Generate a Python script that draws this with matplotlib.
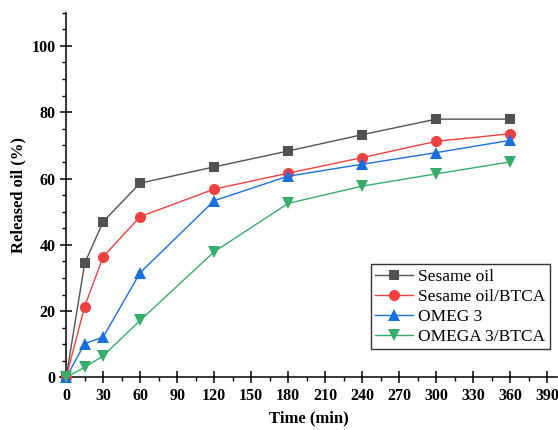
import numpy as np
import matplotlib
matplotlib.use("Agg")
import matplotlib.pyplot as plt
from matplotlib.ticker import MultipleLocator

plt.rcParams['font.family'] = ['Liberation Serif', 'DejaVu Serif']
plt.rcParams['font.weight'] = 'bold'

# data
time = [0, 15, 30, 60, 120, 180, 240, 300, 360]
sesame = [0, 34.4, 47.0, 58.6, 63.5, 68.3, 73.2, 77.9, 77.9]
sesame_btca = [0, 21.4, 36.4, 48.5, 56.8, 61.6, 66.3, 71.2, 73.5]
omeg3 = [0, 10.2, 12.2, 31.6, 53.3, 60.7, 64.3, 67.8, 71.5]
omega3_btca = [0, 3.1, 6.5, 17.2, 37.9, 52.5, 57.7, 61.4, 65.0]

labels = ['Sesame oil', 'Sesame oil/BTCA', 'OMEG 3', 'OMEGA 3/BTCA']
colors = ['#515151', '#F14040', '#1A6FDF', '#37AD6B']
markers = ['s', 'o', '^', 'v']
msizes = [7, 8, 8.5, 8.5]

fig = plt.figure(figsize=(5.58, 4.30), dpi=100)
ax = fig.add_axes([0.1075, 0.1221, 0.8907, 0.8484])

for ys, lab, c, m, ms in zip([sesame, sesame_btca, omeg3, omega3_btca],
                             labels, colors, markers, msizes):
    ax.plot(time, ys, color=c, lw=1.0, marker=m, markersize=ms,
            markeredgewidth=0, label=lab, clip_on=False, zorder=3)

ax.set_xlim(-5, 398)
ax.set_ylim(0, 110)

ax.spines['top'].set_visible(False)
ax.spines['right'].set_visible(False)
ax.spines['left'].set_position(('data', 0))
for s in ['left', 'bottom']:
    ax.spines[s].set_linewidth(1.1)

ax.xaxis.set_major_locator(MultipleLocator(30))
ax.xaxis.set_minor_locator(MultipleLocator(15))
ax.yaxis.set_major_locator(MultipleLocator(20))
ax.yaxis.set_minor_locator(MultipleLocator(5))
ax.set_yticks(np.arange(0, 101, 20))

ax.tick_params(which='major', direction='inout', length=9, width=1.1,
               labelsize=11.5, pad=3)
ax.tick_params(which='minor', direction='out', length=3, width=1.0)
for t in ax.get_xticklabels() + ax.get_yticklabels():
    t.set_fontweight('bold')

ax.set_xlabel('Time (min)', fontsize=12, fontweight='bold', labelpad=5)
ax.set_ylabel('Released oil (%)', fontsize=12, fontweight='bold', labelpad=4)

leg = ax.legend(loc='lower right', bbox_to_anchor=(0.986, 0.078),
                fontsize=12.5, frameon=True, fancybox=False,
                handlelength=2.2, labelspacing=0.22, borderpad=0.25,
                handletextpad=0.3, borderaxespad=0)
leg.get_frame().set_edgecolor('black')
leg.get_frame().set_linewidth(1.0)
for t in leg.get_texts():
    t.set_fontweight('normal')

fig.savefig('out.png', dpi=100)
